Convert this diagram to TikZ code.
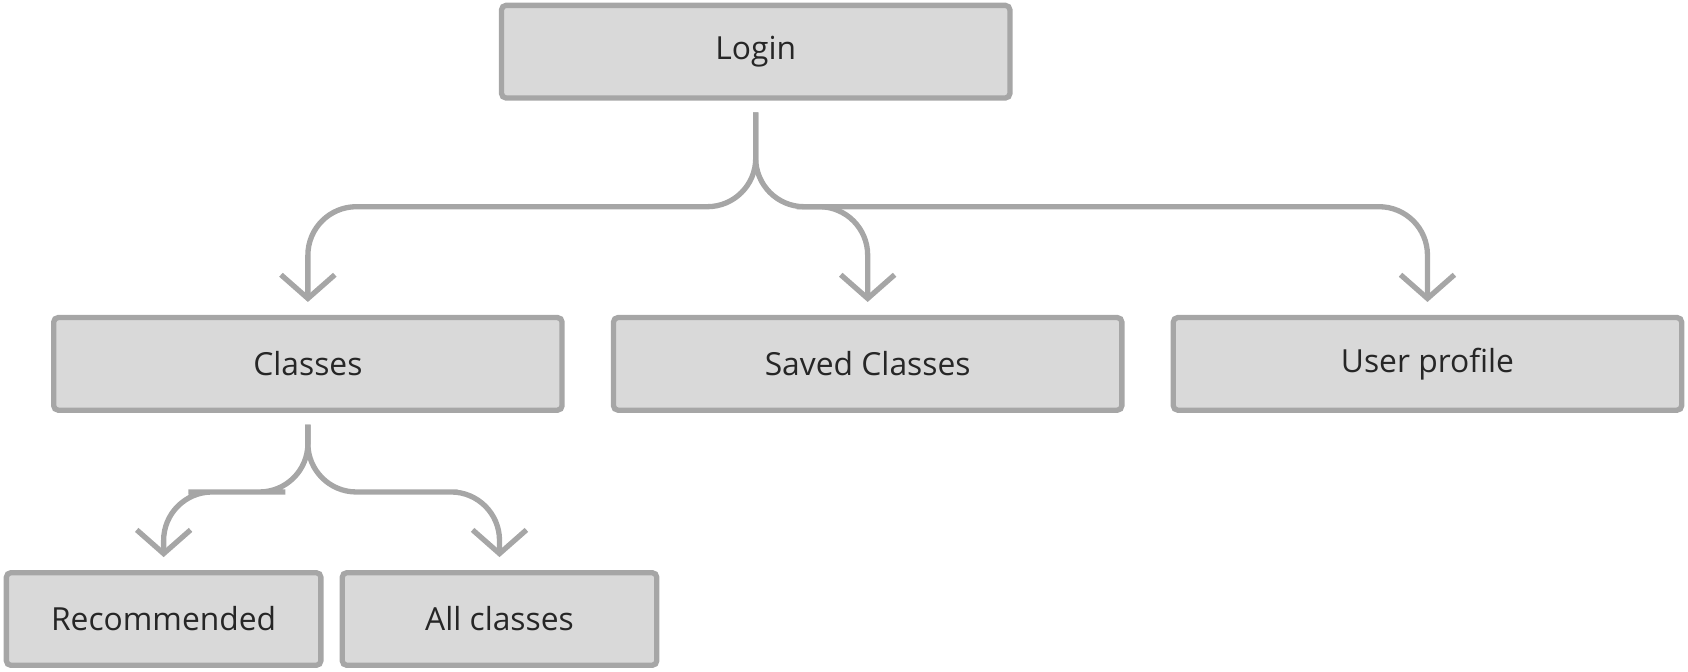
\documentclass[tikz,border=0pt]{standalone}
\usepackage{fontspec}
\setmainfont{Open Sans}
\usetikzlibrary{arrows.meta}
\definecolor{boxfill}{HTML}{D9D9D9}
\definecolor{boxline}{HTML}{A6A6A6}
\definecolor{ink}{HTML}{262626}
\tikzset{
  pagebox/.style={draw=boxline, fill=boxfill, line width=1.4pt, rounded corners=1.2pt,
    minimum width=4.72cm, minimum height=0.86cm, text=ink, font=\fontsize{8.4}{10}\selectfont},
  leafbox/.style={pagebox, minimum width=2.92cm},
  link/.style={draw=boxline, line width=1.4pt, rounded corners=0.45cm,
    -{Straight Barb[length=0.22cm, width=0.5cm, line width=1.4pt]}}
}
\begin{document}
\begin{tikzpicture}[x=0.01cm, y=-0.01cm]
  \useasboundingbox (0,0) rectangle (1568,624);
  \node[pagebox] (login) at (702,48) {Login};
  \node[pagebox] (classes) at (286,338) {Classes};
  \node[pagebox] (saved) at (806,338) {Saved Classes};
  \node[pagebox] (profile) at (1326,338) {User profile};
  \node[leafbox] (recommended) at (152,575) {Recommended};
  \node[leafbox] (allclasses) at (464,575) {All classes};
  % top level links
  \draw[link] ([yshift=-0.11cm]login.south) |- (500,192) -| ([yshift=0.12cm]classes.north);
  \draw[link] ([yshift=-0.11cm]login.south) |- (1000,192) -| ([yshift=0.12cm]profile.north);
  \draw[link] (740,192) -| ([yshift=0.12cm]saved.north);
  % classes links
  \draw[link] ([yshift=-0.11cm]classes.south) |- (220,457) -| ([yshift=0.12cm]recommended.north);
  \draw[link] ([yshift=-0.11cm]classes.south) |- (380,457) -| ([yshift=0.12cm]allclasses.north);
\end{tikzpicture}
\end{document}
